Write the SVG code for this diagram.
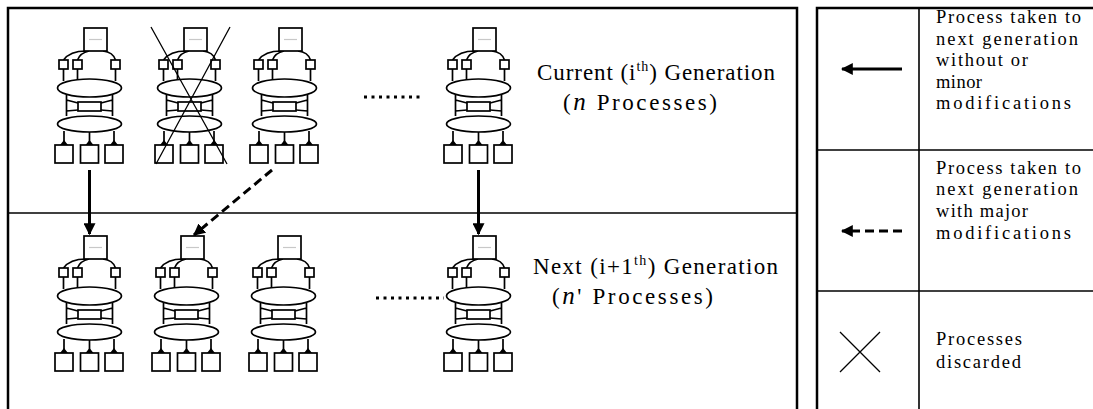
<svg xmlns="http://www.w3.org/2000/svg" xmlns:xlink="http://www.w3.org/1999/xlink" width="1093" height="409" viewBox="0 0 1093 409">
<style>
.frame{fill:none;stroke:#000;stroke-width:2.5}
.sep{fill:none;stroke:#000;stroke-width:1.6}
.ic{fill:#fff;stroke:#000;stroke-width:1.7}
.icl{fill:none;stroke:#000;stroke-width:1.7}
.big{font-family:"Liberation Serif","Times New Roman",serif;font-size:23px;fill:#000}
.leg{font-family:"Liberation Serif","Times New Roman",serif;font-size:18.5px;fill:#000}
.arr{fill:none;stroke:#000;stroke-width:3}
.dash{fill:none;stroke:#000;stroke-width:3;stroke-dasharray:9 5}
.dots{fill:none;stroke:#000;stroke-width:3;stroke-dasharray:3 4.5}
.cross{fill:none;stroke:#000;stroke-width:1.3}
</style>
<defs>
<marker id="ah" viewBox="0 0 10 10" refX="9" refY="5" markerWidth="4" markerHeight="4" orient="auto" markerUnits="strokeWidth">
<path d="M0 0 L10 5 L0 10 z" fill="#000"/>
</marker>
<g id="proc">
<path class="icl" d="M86 51 Q70 51 63.5 60 M89 51 Q80 53 77.5 60 M103 51 Q113 52 115.5 60"/>
<rect class="ic" x="84" y="28" width="23" height="23"/>
<line x1="89" y1="39.5" x2="102" y2="39.5" stroke="#c8c8c8" stroke-width="1.2"/>
<rect class="ic" x="59" y="60" width="9" height="9"/>
<rect class="ic" x="73" y="60" width="9" height="9"/>
<rect class="ic" x="111" y="60" width="9" height="9"/>
<path class="icl" d="M63.5 69 V81 M77.5 69 V80 M115.5 69 V81"/>
<path class="icl" d="M66.5 95 V116 M112.5 95 V116 M66.5 100 L78 103 M66.5 111 L78 110 M112.5 100 L101 103 M112.5 111 L101 110"/>
<ellipse class="ic" cx="89.5" cy="88" rx="32" ry="9"/>
<rect class="ic" x="78" y="102" width="23" height="9"/>
<ellipse class="ic" cx="89.5" cy="124" rx="32" ry="8"/>
<path class="icl" d="M64 131 V145 M89.5 132 V145 M114 131 V145"/>
<rect class="ic" x="55" y="145" width="18" height="18"/>
<rect class="ic" x="80.5" y="145" width="18" height="18"/>
<rect class="ic" x="105" y="145" width="18" height="18"/>
<path d="M60 145 L64 140 L68 145 z M85.5 145 L89.5 140 L93.5 145 z M110 145 L114 140 L118 145 z" fill="#000"/>
</g>
</defs>

<g id="panels">
<path class="frame" d="M8 420 V8 H797 V420"/>
<line class="sep" x1="8" y1="213" x2="797" y2="213"/>
<path class="frame" d="M817 420 V8 H1100"/>
<line class="sep" x1="919" y1="8" x2="919" y2="420"/>
<line class="sep" x1="817" y1="150" x2="1100" y2="150"/>
<line class="sep" x1="817" y1="291" x2="1100" y2="291"/>
</g>

<g id="current-1"><use xlink:href="#proc"/></g>
<g id="current-2"><use xlink:href="#proc" transform="translate(100,0)"/>
<path class="cross" d="M151 27 L227 164 M230 27 L156 164"/></g>
<g id="current-3"><use xlink:href="#proc" transform="translate(195,0)"/></g>
<g id="current-n"><use xlink:href="#proc" transform="translate(389,0)"/></g>

<g id="next-1"><use xlink:href="#proc" transform="translate(0,208)"/></g>
<g id="next-2"><use xlink:href="#proc" transform="translate(97,208)"/></g>
<g id="next-3"><use xlink:href="#proc" transform="translate(194,208)"/></g>
<g id="next-n"><use xlink:href="#proc" transform="translate(389,208)"/></g>

<g id="connectors">
<line class="arr" x1="89.5" y1="170" x2="89.5" y2="234" marker-end="url(#ah)"/>
<line class="arr" x1="478.5" y1="170" x2="478.5" y2="234" marker-end="url(#ah)"/>
<line class="dash" x1="272" y1="170" x2="194" y2="235" marker-end="url(#ah)"/>
</g>

<g id="ellipsis">
<line class="dots" x1="364" y1="97" x2="424" y2="97"/>
<line class="dots" x1="376" y1="298" x2="444" y2="298"/>
</g>

<g id="labels">
<text class="big" x="537" y="80" textLength="238" lengthAdjust="spacing">Current (i<tspan font-size="14" dy="-9">th</tspan><tspan dy="9">) Generation</tspan></text>
<text class="big" x="563" y="110" textLength="154" lengthAdjust="spacing">(<tspan font-style="italic" font-size="25">n</tspan> Processes)</text>
<text class="big" x="533" y="274" textLength="245" lengthAdjust="spacing">Next (i+1<tspan font-size="14" dy="-9">th</tspan><tspan dy="9">) Generation</tspan></text>
<text class="big" x="552" y="304" textLength="161" lengthAdjust="spacing">(<tspan font-style="italic" font-size="25">n</tspan>' Processes)</text>
</g>

<g id="legend-solid">
<line class="arr" x1="902" y1="69" x2="842" y2="69" marker-end="url(#ah)"/>
<text class="leg" x="936" y="23" textLength="145" lengthAdjust="spacing">Process taken to</text>
<text class="leg" x="936" y="44.5" textLength="142" lengthAdjust="spacing">next generation</text>
<text class="leg" x="936" y="66" textLength="92" lengthAdjust="spacing">without or</text>
<text class="leg" x="936" y="87.5" textLength="46" lengthAdjust="spacing">minor</text>
<text class="leg" x="936" y="109" textLength="135" lengthAdjust="spacing">modifications</text>
</g>
<g id="legend-dashed">
<line class="dash" x1="902" y1="231" x2="842" y2="231" marker-end="url(#ah)"/>
<text class="leg" x="936" y="174" textLength="145" lengthAdjust="spacing">Process taken to</text>
<text class="leg" x="936" y="195" textLength="142" lengthAdjust="spacing">next generation</text>
<text class="leg" x="936" y="217" textLength="92" lengthAdjust="spacing">with major</text>
<text class="leg" x="936" y="239" textLength="135" lengthAdjust="spacing">modifications</text>
</g>
<g id="legend-cross">
<path class="cross" d="M840 332 L880 372 M880 332 L840 372"/>
<text class="leg" x="936" y="345" textLength="86" lengthAdjust="spacing">Processes</text>
<text class="leg" x="936" y="368" textLength="85" lengthAdjust="spacing">discarded</text>
</g>
</svg>
